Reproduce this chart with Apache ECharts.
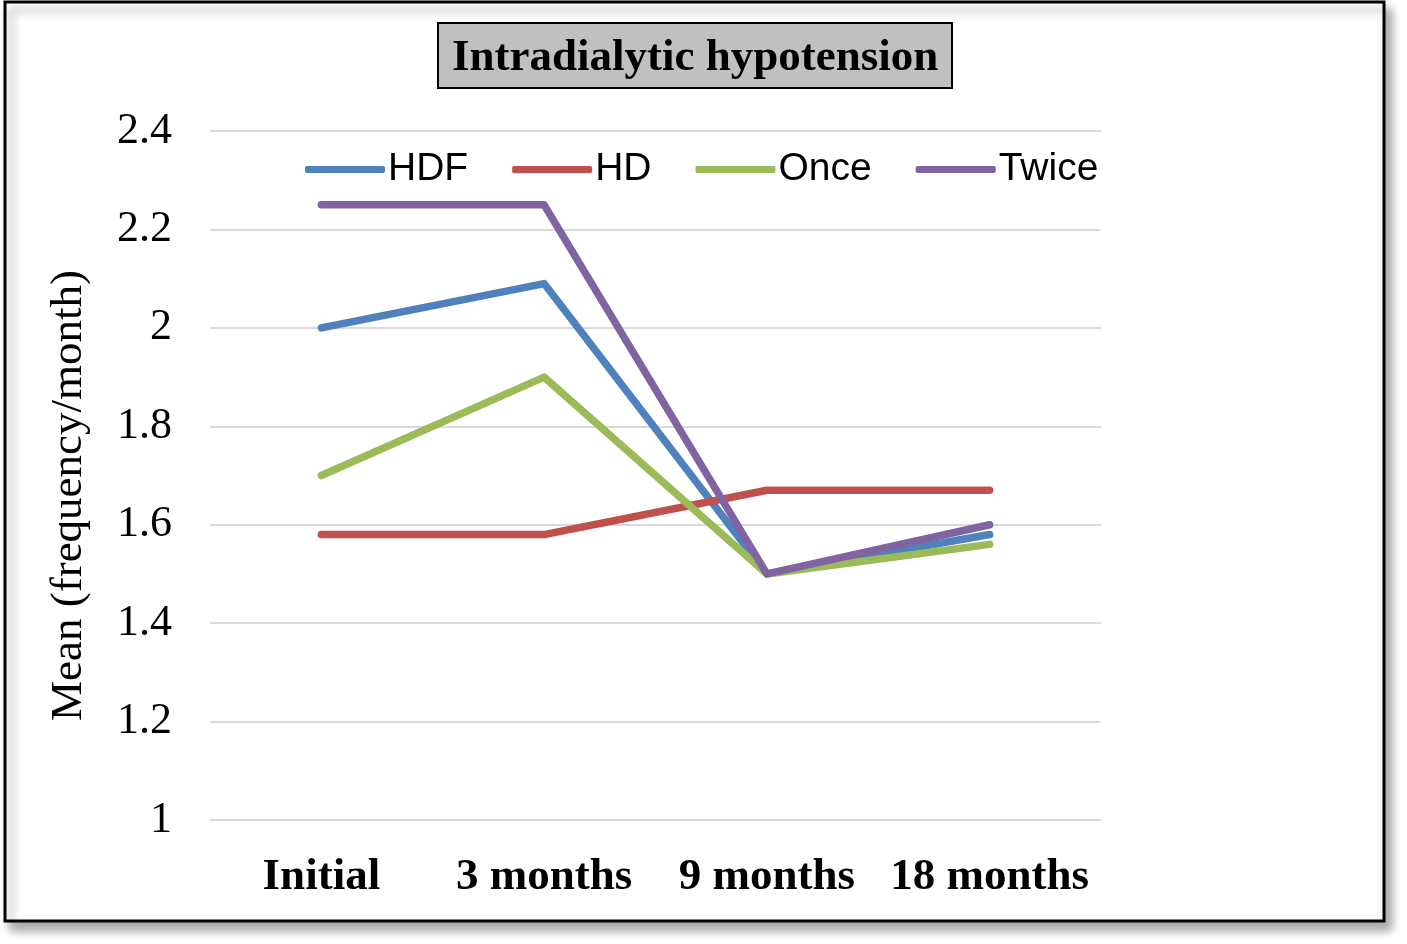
<!DOCTYPE html>
<html><head><meta charset="utf-8">
<script src="https://cdn.jsdelivr.net/npm/echarts@6/dist/echarts.min.js"></script>
<style>html,body{margin:0;padding:0;background:#fff}#c{width:1407px;height:944px}</style>
</head><body><div id="c"></div>
<script>
const categories = ['Initial', '3 months', '9 months', '18 months'];
const hdf = [2.0, 2.09, 1.5, 1.58];
const hd = [1.58, 1.58, 1.67, 1.67];
const once = [1.7, 1.9, 1.5, 1.56];
const twice = [2.25, 2.25, 1.5, 1.6];
const seriesNames = ['HDF', 'HD', 'Once', 'Twice'];
const colors = ['#4f81bd', '#c0504d', '#9bbb59', '#8064a2'];

const chart = echarts.init(document.getElementById('c'), null, {renderer: 'canvas'});
const mk = (name, data, color) => ({
  name, type: 'line', data, symbol: 'none', smooth: false,
  lineStyle: {width: 7.5, color, cap: 'round', join: 'round'},
  itemStyle: {color}
});
chart.setOption({
  animation: false,
  color: colors,
  graphic: [{
    type: 'rect', z: -10,
    shape: {x: 5, y: 2, width: 1379, height: 919},
    style: {fill: '#fff', stroke: '#000', lineWidth: 3, shadowBlur: 10, shadowOffsetX: 6, shadowOffsetY: 8, shadowColor: 'rgba(0,0,0,0.35)'}
  }],
  title: {
    text: 'Intradialytic hypotension', left: 438, top: 23,
    backgroundColor: '#c0c0c0', borderColor: '#000', borderWidth: 2,
    padding: [13, 14, 7, 14],
    textStyle: {fontFamily: 'Liberation Serif', fontWeight: 'bold', fontSize: 45, lineHeight: 45, color: '#000'}
  },
  legend: {
    data: seriesNames, top: 145, left: 300, itemWidth: 80, itemHeight: 7, itemGap: 44,
    icon: 'roundRect',
    textStyle: {fontFamily: 'Liberation Sans', fontSize: 39, color: '#000', padding: [0, 0, 0, -2]}
  },
  grid: {left: 210, right: 306, top: 131, bottom: 124, containLabel: false},
  xAxis: {
    type: 'category', data: categories, boundaryGap: true,
    axisLine: {show: false}, axisTick: {show: false},
    axisLabel: {interval: 0, hideOverlap: false, fontFamily: 'Liberation Serif', fontWeight: 'bold', fontSize: 45, color: '#000', margin: 35}
  },
  yAxis: {
    type: 'value', min: 1, max: 2.4, interval: 0.2,
    name: 'Mean (frequency/month)', nameLocation: 'middle', nameGap: 118,
    nameTextStyle: {fontFamily: 'Liberation Serif', fontSize: 45, color: '#000', padding: [0, 40, 0, 0]},
    axisLine: {show: false}, axisTick: {show: false},
    axisLabel: {fontFamily: 'Liberation Serif', fontSize: 44, color: '#000', margin: 38,
      formatter: v => String(Math.round(v * 10) / 10)},
    splitLine: {lineStyle: {color: '#d9d9d9', width: 2}}
  },
  series: [mk('HDF', hdf, colors[0]), mk('HD', hd, colors[1]), mk('Once', once, colors[2]), mk('Twice', twice, colors[3])]
});
</script></body></html>
